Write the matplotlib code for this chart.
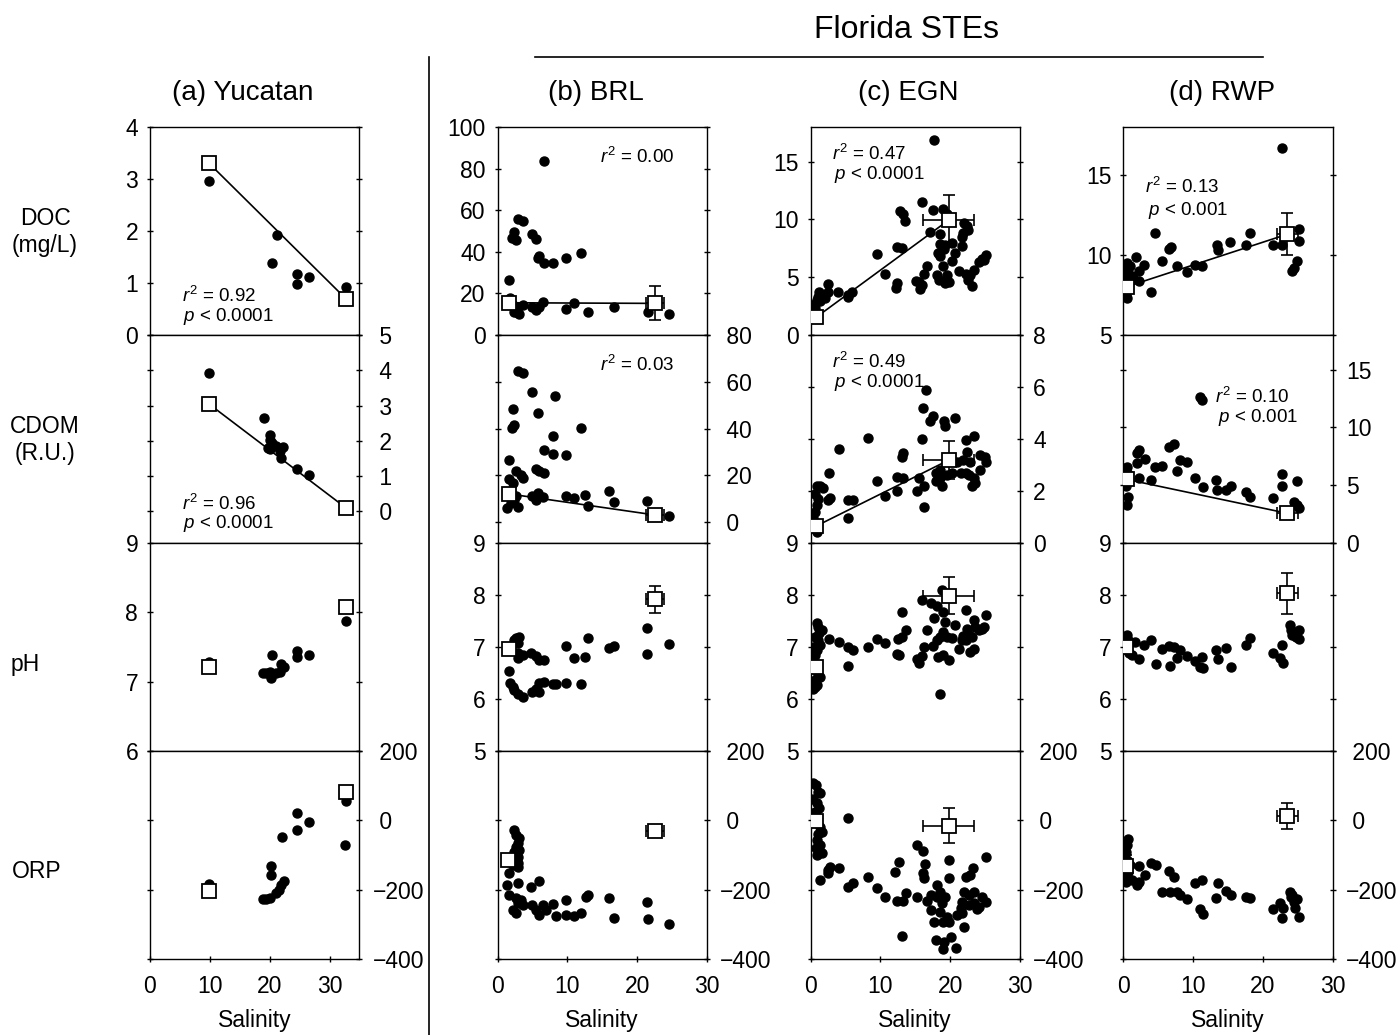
import numpy as np
import matplotlib
matplotlib.use("Agg")
import matplotlib.pyplot as plt
from matplotlib.lines import Line2D

plt.rcParams['font.family'] = ['Liberation Sans', 'DejaVu Sans']
plt.rcParams['mathtext.fontset'] = 'custom'
plt.rcParams['mathtext.rm'] = 'Liberation Sans'
plt.rcParams['mathtext.it'] = 'Liberation Sans:italic'

W, H = 1399, 1035

# ---------------- data: (salinity, value) ----------------
# endmembers: (salinity, value, salinity err, value err)

# (a) Yucatan
yuc_doc = [(9.9, 2.97), (21.3, 1.93), (20.3, 1.39), (24.5, 1.17), (24.5, 0.99),
           (26.6, 1.11), (32.7, 0.93)]
yuc_doc_end = [(9.8, 3.31, 0, 0), (32.7, 0.70, 0, 0)]
yuc_cdom = [(9.9, 3.93), (19.1, 2.65), (20.1, 2.17), (20.1, 2.03), (19.7, 1.79),
            (20.0, 1.76), (20.3, 1.94), (21.1, 1.84), (22.3, 1.82), (21.7, 1.70),
            (21.9, 1.51), (24.5, 1.21), (26.6, 1.03)]
yuc_cdom_end = [(9.8, 3.05, 0, 0), (32.7, 0.10, 0, 0)]
yuc_ph = [(9.9, 7.29), (32.7, 7.87), (20.3, 7.39), (18.9, 7.13), (19.4, 7.13),
          (20.0, 7.14), (20.2, 7.05), (21.1, 7.13), (21.7, 7.14), (21.9, 7.25),
          (22.4, 7.21), (24.5, 7.44), (24.5, 7.36), (26.6, 7.38)]
yuc_ph_end = [(9.8, 7.21, 0, 0), (32.7, 8.08, 0, 0)]
yuc_orp = [(9.9, -185), (32.7, 57), (24.5, 22), (26.6, -4), (24.5, -28), (22.0, -49),
           (32.6, -71), (20.2, -131), (20.2, -158), (22.4, -175), (21.9, -187),
           (21.5, -201), (21.1, -211), (18.9, -227), (19.4, -227), (20.0, -223)]
yuc_orp_end = [(9.8, -204, 0, 0), (32.7, 83, 0, 0)]

# (b) BRL
brl_doc = [(6.7, 83.8), (3.0, 56), (3.6, 54.8), (2.35, 49.7), (2.06, 46.5), (2.6, 45.7),
           (5.0, 48.4), (5.5, 46.2), (5.9, 38.1), (5.8, 36.9), (6.6, 34.5), (7.9, 34.8),
           (9.8, 37.2), (11.9, 39.3), (1.7, 26.4), (1.8, 17.6), (2.2, 14.4), (2.4, 11.2),
           (3.1, 10.1), (2.9, 13.6), (3.6, 14.4), (5.0, 13.6), (5.5, 12.0), (6.0, 13.6),
           (6.5, 15.7), (9.8, 12.3), (10.9, 15.2), (12.9, 11.2), (16.7, 13.3),
           (21.5, 10.9), (24.5, 10.1), (2.6, 11.2)]
brl_doc_end = [(1.6, 15.5, 0, 0), (22.5, 15.2, 1.3, 8.2)]
brl_cdom = [(3.0, 64.6), (3.6, 63.9), (5.0, 55.6), (8.3, 54.1), (2.2, 48.4), (5.8, 46.7),
            (2.3, 41.7), (2.1, 40.3), (11.9, 40.3), (7.9, 36.7), (6.6, 30.7), (7.9, 29.1),
            (9.8, 28.9), (1.7, 26.7), (5.5, 22.7), (6.0, 22.0), (6.7, 21.0), (2.6, 21.7),
            (3.4, 20.3), (3.6, 18.9), (1.7, 18.4), (2.2, 16.7), (5.8, 12.4), (5.0, 11.0),
            (6.5, 10.7), (5.5, 9.3), (9.8, 11.0), (10.9, 10.3), (12.6, 11.7), (12.9, 7.0),
            (16.0, 13.4), (16.7, 8.6), (21.4, 8.9), (24.5, 2.7), (1.4, 6.0), (1.9, 8.1),
            (2.4, 9.6), (2.9, 6.7), (2.6, 11.0)]
brl_cdom_end = [(1.6, 12.1, 0, 0), (22.5, 3.1, 1.3, 0)]
brl_ph = [(1.7, 6.54), (1.8, 6.31), (2.2, 6.24), (2.4, 6.17), (2.9, 6.10), (3.6, 6.03),
          (5.0, 6.14), (5.5, 6.20), (6.0, 6.14), (6.0, 6.30), (6.7, 6.33), (7.9, 6.29),
          (8.4, 6.29), (9.8, 6.30), (11.9, 6.28), (2.4, 7.13), (2.7, 7.17), (3.1, 7.19),
          (2.9, 7.07), (3.0, 6.88), (2.9, 6.78), (3.6, 6.85), (4.8, 6.88), (5.5, 6.83),
          (6.0, 6.75), (6.7, 6.75), (9.8, 7.02), (10.9, 6.78), (12.6, 6.81), (12.9, 7.18),
          (16.0, 6.99), (16.7, 7.02), (21.4, 7.36), (21.4, 6.87), (24.5, 7.06)]
brl_ph_end = [(1.6, 6.96, 0, 0), (22.5, 7.92, 1.3, 0.26)]
brl_orp = [(2.4, -28), (2.7, -42), (3.1, -52), (3.0, -66), (2.6, -76), (3.1, -86),
           (2.3, -90), (2.9, -105), (3.0, -124), (2.9, -134), (2.2, -129), (1.7, -153),
           (1.4, -187), (3.0, -182), (5.9, -175), (4.8, -193), (1.7, -215), (2.7, -225),
           (3.4, -230), (3.6, -244), (2.2, -259), (2.6, -268), (3.0, -239), (5.0, -244),
           (5.5, -259), (6.0, -273), (6.5, -244), (7.0, -259), (7.9, -242), (8.4, -276),
           (9.8, -230), (9.8, -273), (10.9, -276), (11.9, -268), (12.7, -220),
           (12.9, -215), (16.0, -225), (16.7, -283), (21.4, -235), (21.5, -286),
           (24.5, -299)]
brl_orp_end = [(1.5, -114, 0, 0), (22.5, -31, 1.3, 0)]

# (c) EGN
egn_doc = [(17.7, 16.9), (15.9, 11.5), (12.8, 10.7), (13.3, 10.5), (13.6, 9.9), (17.6, 10.8),
           (19.0, 10.9), (19.5, 10.5), (17.1, 8.9), (18.6, 8.7), (22.0, 9.7), (22.4, 9.4),
           (22.6, 9.1), (21.8, 8.8), (21.7, 8.5), (18.6, 7.9), (19.3, 7.8), (20.3, 8.0),
           (19.1, 7.4), (18.2, 7.1), (18.6, 6.8), (20.7, 7.1), (21.7, 7.7), (20.3, 6.4),
           (19.0, 6.0), (16.7, 6.0), (16.2, 5.3), (15.1, 4.7), (15.9, 4.3), (15.7, 4.0),
           (15.5, 4.6), (12.4, 4.5), (12.2, 4.1), (10.7, 5.3), (9.5, 7.0), (12.4, 7.6),
           (13.1, 7.5), (18.1, 5.2), (18.4, 4.8), (19.5, 5.2), (19.8, 4.6), (19.3, 4.5),
           (21.2, 5.5), (22.2, 5.3), (22.9, 5.2), (23.4, 5.6), (23.1, 4.2), (22.6, 4.8),
           (24.1, 6.3), (24.6, 6.6), (25.1, 6.9), (24.8, 6.5), (2.5, 4.4), (2.5, 3.7),
           (4.0, 3.7), (5.4, 3.5), (5.9, 3.7), (5.4, 3.3), (1.2, 3.7), (1.1, 3.3),
           (0.86, 3.0), (0.6, 2.7), (1.3, 2.9), (1.6, 3.5), (2.1, 3.2), (0.6, 2.3)]
egn_doc_end = [(0.8, 1.53, 0, 0), (19.8, 9.95, 3.65, 2.15)]
egn_cdom = [(16.5, 5.9), (16.1, 5.2), (17.6, 4.9), (17.1, 4.7), (19.1, 4.7), (19.3, 4.5),
            (20.7, 4.8), (8.3, 4.05), (4.1, 3.6), (16.0, 4.0), (13.3, 3.45), (13.1, 3.3),
            (2.6, 2.7), (9.5, 2.4), (10.7, 1.8), (12.4, 2.0), (12.4, 2.55), (13.3, 2.5),
            (15.5, 2.5), (15.2, 2.0), (16.2, 2.2), (16.2, 1.4), (5.4, 0.95), (5.4, 1.65),
            (6.1, 1.65), (2.8, 1.75), (2.5, 1.65), (0.86, 2.2), (1.3, 2.2), (1.8, 2.1),
            (0.6, 1.9), (1.1, 1.7), (0.86, 1.45), (0.6, 1.2), (0.4, 0.95), (0.86, 0.44),
            (17.9, 2.4), (18.6, 2.5), (18.8, 2.2), (19.5, 2.6), (20.3, 2.7), (21.5, 2.7),
            (22.2, 2.7), (22.7, 2.6), (23.4, 2.5), (23.6, 2.3), (22.9, 3.1), (22.4, 3.5),
            (22.2, 3.96), (23.4, 4.1), (24.3, 3.4), (25.0, 3.3), (25.2, 3.1), (24.3, 2.8),
            (21.0, 3.1), (21.9, 3.2), (18.6, 2.8), (17.9, 2.7), (23.1, 2.2)]
egn_cdom_end = [(0.8, 0.65, 0, 0), (19.8, 3.19, 3.65, 0.73)]
egn_ph = [(0.86, 7.47), (1.1, 7.38), (1.6, 7.33), (1.2, 7.26), (0.6, 7.2), (1.1, 7.13),
          (1.3, 7.04), (0.86, 6.94), (0.6, 6.85), (1.1, 6.46), (0.6, 6.37), (0.86, 6.27),
          (0.4, 6.19), (0.6, 6.24), (1.3, 6.43), (0.4, 7.0), (2.7, 7.15), (4.1, 7.1),
          (5.4, 7.0), (5.4, 6.63), (6.1, 6.94), (8.3, 7.0), (9.5, 7.15), (10.7, 7.08),
          (12.4, 6.87), (12.7, 6.85), (13.1, 7.67), (13.1, 7.2), (13.7, 7.33), (12.6, 7.15),
          (15.9, 7.9), (15.2, 6.76), (15.5, 6.69), (16.0, 6.83), (16.2, 7.0), (16.7, 7.33),
          (17.2, 7.84), (17.7, 7.55), (18.1, 7.78), (19.0, 7.68), (18.8, 8.1), (19.3, 7.49),
          (17.6, 7.02), (18.1, 7.13), (18.6, 7.2), (19.0, 7.29), (19.6, 7.2), (20.3, 7.17),
          (18.2, 6.81), (19.0, 6.85), (19.8, 6.75), (18.6, 6.1), (20.7, 7.42), (21.2, 6.97),
          (21.7, 7.13), (22.3, 7.71), (22.4, 7.34), (22.7, 7.23), (22.2, 7.13), (22.9, 6.91),
          (23.4, 6.97), (23.1, 7.2), (23.6, 7.39), (24.1, 7.33), (24.6, 7.34), (25.2, 7.62),
          (24.9, 7.38), (23.4, 7.52), (21.9, 7.22)]
egn_ph_end = [(0.8, 6.62, 0, 0.34), (19.8, 7.99, 3.65, 0.35)]
egn_orp = [(0.4, 109), (0.77, 102), (1.1, 83), (1.3, 78), (0.4, 61), (0.86, 49), (1.2, 35),
           (0.6, 25), (0.86, 11), (1.3, -18), (1.6, -33), (1.1, -38), (0.86, -57),
           (1.3, -71), (0.77, -81), (1.6, -93), (0.86, -100), (5.4, 6), (1.3, -172),
           (2.5, -143), (2.8, -136), (2.5, -153), (4.1, -138), (5.4, -193), (6.1, -180),
           (8.3, -163), (9.5, -196), (10.7, -222), (12.4, -232), (13.1, -334), (12.7, -119),
           (12.1, -148), (13.3, -232), (13.7, -211), (15.2, -71), (16.1, -88), (16.4, -126),
           (16.1, -153), (16.2, -167), (15.2, -222), (16.7, -232), (17.2, -259), (17.7, -292),
           (17.9, -345), (18.1, -187), (18.6, -206), (18.1, -222), (18.8, -239), (19.3, -222),
           (18.6, -263), (19.0, -292), (19.8, -292), (19.5, -278), (19.8, -167), (19.8, -113),
           (19.1, -350), (19.0, -372), (20.1, -336), (20.8, -369), (21.0, -273), (21.7, -268),
           (22.0, -307), (21.7, -235), (22.0, -206), (22.7, -215), (22.2, -163), (22.9, -158),
           (23.3, -138), (23.4, -206), (22.7, -244), (23.4, -239), (24.1, -249), (24.6, -220),
           (25.2, -235), (25.2, -105), (23.9, -257), (21.5, -254), (17.2, -215)]
egn_orp_end = [(0.8, -1, 0, 0), (19.8, -15, 3.65, 50)]

# (d) RWP
rwp_doc = [(22.7, 16.7), (4.6, 11.35), (18.2, 11.4), (15.3, 10.8), (13.4, 10.6), (13.6, 10.3),
           (17.5, 10.6), (21.4, 10.6), (22.7, 10.6), (25.1, 11.6), (25.1, 10.9), (24.9, 9.6),
           (24.4, 9.2), (24.2, 9.0), (6.5, 10.4), (6.9, 10.5), (5.5, 9.6), (7.7, 9.3),
           (9.1, 8.96), (10.3, 9.4), (11.2, 9.3), (1.8, 9.9), (3.0, 9.4), (2.2, 9.0),
           (2.3, 8.4), (4.0, 7.7), (0.48, 9.5), (1.0, 9.3), (0.24, 9.06), (0.72, 8.85),
           (1.2, 8.7), (0.38, 8.44), (1.4, 8.54), (0.48, 7.3), (0.38, 7.5)]
rwp_doc_end = [(0.5, 8.02, 0, 0), (23.5, 11.3, 1.5, 1.33)]
rwp_cdom = [(11.2, 12.4), (11.0, 12.6), (2.2, 8.06), (1.9, 7.8), (3.1, 7.3), (1.9, 6.9),
            (6.5, 8.35), (7.2, 8.55), (8.1, 7.2), (9.1, 7.05), (4.5, 6.6), (5.5, 6.7),
            (7.7, 6.24), (2.3, 5.6), (4.0, 5.46), (10.2, 5.66), (11.4, 4.88), (13.3, 5.46),
            (13.4, 4.6), (14.7, 4.6), (15.4, 4.94), (17.5, 4.45), (18.2, 4.0), (21.4, 3.87),
            (22.7, 5.95), (22.7, 4.94), (24.9, 5.38), (24.4, 3.58), (24.9, 3.3), (25.1, 3.0),
            (0.48, 6.6), (0.72, 6.0), (0.38, 4.9), (0.72, 4.0), (0.48, 3.3), (0.38, 6.5)]
rwp_cdom_end = [(0.5, 5.5, 0, 0), (23.5, 2.57, 1.5, 0)]
rwp_ph = [(0.48, 7.23), (0.72, 7.13), (0.86, 6.88), (1.2, 6.85), (1.7, 7.1), (2.3, 6.76),
          (2.9, 7.04), (4.0, 7.13), (4.7, 6.67), (5.5, 6.97), (6.5, 7.02), (7.2, 7.0),
          (6.7, 6.63), (7.7, 6.78), (8.1, 6.94), (9.1, 6.83), (10.3, 6.74), (11.2, 6.81),
          (11.0, 6.61), (11.4, 6.59), (13.3, 6.94), (13.5, 6.77), (14.7, 6.99), (15.4, 6.62),
          (17.5, 7.04), (18.2, 7.17), (21.4, 6.89), (22.7, 7.04), (22.5, 6.78), (22.9, 6.69),
          (23.9, 7.42), (24.0, 7.33), (24.4, 7.26), (25.1, 7.33), (24.8, 7.2), (25.1, 7.15),
          (24.1, 7.23)]
rwp_ph_end = [(0.4, 7.0, 0, 0), (23.5, 8.03, 1.5, 0.4)]
rwp_orp = [(0.72, -54), (0.48, -71), (0.38, -90), (0.6, -114), (1.0, -129), (0.72, -148),
           (0.48, -163), (0.38, -177), (1.2, -172), (1.9, -187), (2.3, -177), (2.3, -132),
           (3.1, -158), (4.0, -122), (4.7, -129), (5.6, -206), (6.5, -146), (7.2, -163),
           (6.7, -208), (7.7, -206), (8.1, -215), (9.1, -228), (10.2, -180), (11.2, -172),
           (11.0, -257), (11.4, -270), (13.3, -225), (13.5, -180), (14.7, -203), (15.4, -215),
           (17.5, -220), (18.2, -225), (21.4, -257), (22.5, -239), (22.7, -283), (22.9, -254),
           (23.8, -206), (24.2, -215), (24.4, -237), (24.9, -228), (24.6, -254), (25.1, -278),
           (24.0, -220)]
rwp_orp_end = [(0.4, -132, 0, 32), (23.5, 12, 1.5, 37)]

points = [[yuc_doc, yuc_cdom, yuc_ph, yuc_orp],
          [brl_doc, brl_cdom, brl_ph, brl_orp],
          [egn_doc, egn_cdom, egn_ph, egn_orp],
          [rwp_doc, rwp_cdom, rwp_ph, rwp_orp]]
ends = [[yuc_doc_end, yuc_cdom_end, yuc_ph_end, yuc_orp_end],
        [brl_doc_end, brl_cdom_end, brl_ph_end, brl_orp_end],
        [egn_doc_end, egn_cdom_end, egn_ph_end, egn_orp_end],
        [rwp_doc_end, rwp_cdom_end, rwp_ph_end, rwp_orp_end]]

titles = ['(a) Yucatan', '(b) BRL', '(c) EGN', '(d) RWP']
row_labels = ['DOC\n(mg/L)', 'CDOM\n(R.U.)', 'pH', 'ORP']
orp_ticks = [-400, -200, 0, 200]
ylims = [[(0, 4), (-0.9, 5), (6, 9), (-400, 200)],
         [(0, 100), (-8.9, 80), (5, 9), (-400, 200)],
         [(0, 18), (0, 8), (5, 9), (-400, 200)],
         [(5, 18), (0, 18), (5, 9), (-400, 200)]]
yticks = [[[0, 1, 2, 3, 4], [0, 1, 2, 3, 4, 5], [6, 7, 8, 9], orp_ticks],
          [[0, 20, 40, 60, 80, 100], [0, 20, 40, 60, 80], [5, 6, 7, 8, 9], orp_ticks],
          [[0, 5, 10, 15], [0, 2, 4, 6, 8], [5, 6, 7, 8, 9], orp_ticks],
          [[5, 10, 15], [0, 5, 10, 15], [5, 6, 7, 8, 9], orp_ticks]]
xmax = [35, 30, 30, 30]

# stats text: (col, row, x, y in axes fraction, text)
stats = [(0, 0, 0.151, 0.19, r'$\mathit{r}^{2}$ = 0.92'), (0, 0, 0.159, 0.09, r'$\mathit{p}$ < 0.0001'),
         (0, 1, 0.151, 0.19, r'$\mathit{r}^{2}$ = 0.96'), (0, 1, 0.159, 0.095, r'$\mathit{p}$ < 0.0001'),
         (1, 0, 0.49, 0.856, r'$\mathit{r}^{2}$ = 0.00'),
         (1, 1, 0.49, 0.856, r'$\mathit{r}^{2}$ = 0.03'),
         (2, 0, 0.103, 0.87, r'$\mathit{r}^{2}$ = 0.47'), (2, 0, 0.11, 0.77, r'$\mathit{p}$ < 0.0001'),
         (2, 1, 0.103, 0.87, r'$\mathit{r}^{2}$ = 0.49'), (2, 1, 0.11, 0.77, r'$\mathit{p}$ < 0.0001'),
         (3, 0, 0.104, 0.71, r'$\mathit{r}^{2}$ = 0.13'), (3, 0, 0.117, 0.60, r'$\mathit{p}$ < 0.001'),
         (3, 1, 0.44, 0.70, r'$\mathit{r}^{2}$ = 0.10'), (3, 1, 0.45, 0.605, r'$\mathit{p}$ < 0.001')]

# ---------------- layout (pixels of the original) ----------------
col_left = [150, 497.5, 810.5, 1123.3]
col_w = 209.5
row_top = [127, 335, 543, 751]
row_h = 208

fig = plt.figure(figsize=(W / 100, H / 100), dpi=100)


def fx(x):
    return x / W


def fy(y):
    return 1 - y / H


for c in range(4):
    for r in range(4):
        ax = fig.add_axes([fx(col_left[c]), fy(row_top[r] + row_h), col_w / W, row_h / H])
        pts = np.array(points[c][r])
        ax.plot(pts[:, 0], pts[:, 1], 'o', color='k', ms=6.5, zorder=2)

        em = np.array(ends[c][r], dtype=float)
        if r < 2:
            ax.plot(em[:, 0], em[:, 1], '-', color='k', lw=1.2, zorder=3)
        for x, y, xe, ye in em:
            if xe > 0 or ye > 0:
                ax.errorbar(x, y, xerr=xe if xe > 0 else None, yerr=ye if ye > 0 else None,
                            fmt='none', ecolor='k', elinewidth=1.2, capsize=4.5,
                            capthick=1.2, zorder=4)
        ax.plot(em[:, 0], em[:, 1], 's', ms=10.5, mfc='white', mec='k', mew=1.3, zorder=5)

        ax.set_xlim(0, xmax[c])
        ax.set_ylim(*ylims[c][r])
        ax.set_xticks([0, 10, 20, 30])
        ax.set_yticks(yticks[c][r])
        for sp in ax.spines.values():
            sp.set_linewidth(1.0)

        label_left = (r % 2 == 0)
        ax.tick_params(axis='y', direction='inout', length=5, width=1.0, left=True, right=True,
                       labelleft=label_left, labelright=not label_left, labelsize=16.5)
        if label_left:
            ax.tick_params(axis='y', pad=6)
        else:
            ax.tick_params(axis='y', pad=7)
            labs = []
            for t in yticks[c][r]:
                s = '\u2212' + str(abs(t)) if t < 0 else str(t)
                if t >= 0 and not (r == 1 and c >= 2):
                    s = ' ' + s
                labs.append(s)
            ax.set_yticklabels(labs)
        if r == 3:
            ax.tick_params(axis='x', direction='inout', length=5, width=1.0, top=False,
                           labelsize=16.5, pad=9)
            ax.set_xlabel('Salinity', fontsize=16.5, labelpad=8)
        else:
            ax.tick_params(axis='x', bottom=False, labelbottom=False)

        for sc, sr, tx, ty, s in stats:
            if sc == c and sr == r:
                ax.text(tx, ty, s, transform=ax.transAxes, ha='left', va='center', fontsize=13.5)

# column titles
title_x = [243, 596, 908, 1222]
for c in range(4):
    fig.text(fx(title_x[c]), fy(93), titles[c], ha='center', va='center', fontsize=20)
fig.text(fx(906), fy(30), 'Florida STEs', ha='center', va='center', fontsize=23)

# row labels
fig.text(fx(45), fy(232), row_labels[0], ha='center', va='center', fontsize=16.5, linespacing=1.25)
fig.text(fx(45), fy(440), row_labels[1], ha='center', va='center', fontsize=16.5, linespacing=1.25)
fig.text(fx(25), fy(664), row_labels[2], ha='center', va='center', fontsize=16.5)
fig.text(fx(37), fy(872), row_labels[3], ha='center', va='center', fontsize=16.5)

# separator lines
fig.add_artist(Line2D([fx(535), fx(1263)], [fy(57), fy(57)], color='k', lw=1.2))
fig.add_artist(Line2D([fx(429), fx(429)], [fy(57), fy(1035)], color='k', lw=1.2))

fig.savefig('out.png', dpi=100)
